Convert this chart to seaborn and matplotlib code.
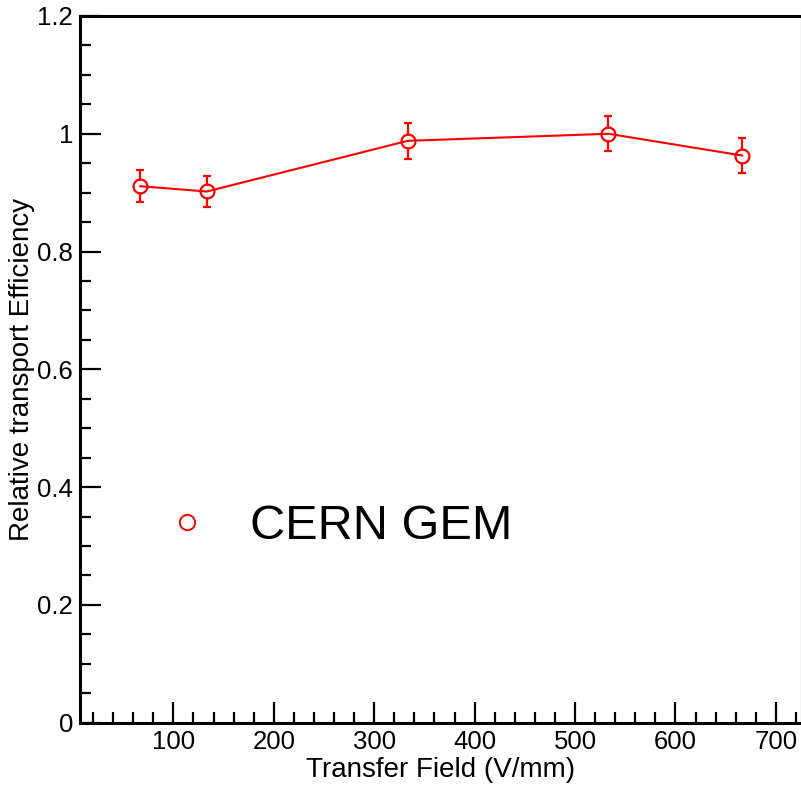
import matplotlib
matplotlib.use("Agg")
import matplotlib.pyplot as plt
from matplotlib.lines import Line2D
from matplotlib.ticker import MultipleLocator, FormatStrFormatter
import seaborn as sns
import pandas as pd

# Transfer field scan of a CERN GEM
transfer_field = [66.7, 133.3, 333.3, 533.3, 666.7]          # V/mm
rel_efficiency = [0.911, 0.902, 0.988, 1.000, 0.963]
efficiency_err = [0.027, 0.027, 0.030, 0.030, 0.030]
series_label = "CERN GEM"

df = pd.DataFrame({"field": transfer_field,
                   "eff": rel_efficiency,
                   "err": efficiency_err})

sns.set_theme(style="ticks")
plt.rcParams["font.family"] = ["Liberation Sans", "DejaVu Sans"]
plt.rcParams["text.color"] = "black"
plt.rcParams["axes.labelcolor"] = "black"

fig = plt.figure(figsize=(8.01, 7.86), dpi=100)
ax = fig.add_axes([80 / 801, 1 - 722.7 / 786, 721 / 801, 706.7 / 786])

red = "#ff0000"

# error bars (hidden inside the open markers)
ax.errorbar(df["field"], df["eff"], yerr=df["err"], fmt="none",
            ecolor=red, elinewidth=1.6, capsize=3.0, capthick=1.6, zorder=1)
sns.scatterplot(data=df, x="field", y="eff", ax=ax, s=70, color="white",
                linewidth=0, zorder=2, legend=False)
# connecting line with open circles
sns.lineplot(data=df, x="field", y="eff", ax=ax, color=red, linewidth=1.5,
             marker="o", markersize=10, markerfacecolor="none",
             markeredgecolor=red, markeredgewidth=1.6, zorder=3,
             legend=False)

ax.set_xlim(7, 725)
ax.set_ylim(0, 1.2)
ax.xaxis.set_major_locator(MultipleLocator(100))
ax.xaxis.set_minor_locator(MultipleLocator(20))
ax.yaxis.set_major_locator(MultipleLocator(0.2))
ax.yaxis.set_minor_locator(MultipleLocator(0.05))
ax.yaxis.set_major_formatter(FormatStrFormatter("%g"))

ax.tick_params(which="both", direction="in", width=1.6, colors="black",
               top=False, right=False)
ax.tick_params(which="major", length=15, labelsize=18.5, pad=5)
ax.tick_params(which="minor", length=8)

for side in ("left", "bottom", "top"):
    ax.spines[side].set_linewidth(2.2)
    ax.spines[side].set_color("black")
ax.spines["right"].set_linewidth(1.0)
ax.spines["right"].set_color("#cccccc")

ax.set_xlabel("Transfer Field (V/mm)", fontsize=20, color="black")
ax.set_ylabel("Relative transport Efficiency", fontsize=20, color="black")
ax.xaxis.set_label_coords(0.5, -0.049)
ax.yaxis.set_label_coords(-0.081, 0.5)
ax.yaxis.label.set_verticalalignment("center")

handle = Line2D([], [], linestyle="none", marker="o", markersize=11,
                markerfacecolor="none", markeredgecolor=red,
                markeredgewidth=1.4)
ax.legend(handles=[handle], labels=[series_label], loc="center left",
          bbox_to_anchor=(0.115, 0.278), frameon=False, fontsize=35,
          handlelength=1.0, handletextpad=0.8, borderpad=0,
          borderaxespad=0, labelcolor="black")

fig.savefig("out.png", dpi=100, facecolor="white")
